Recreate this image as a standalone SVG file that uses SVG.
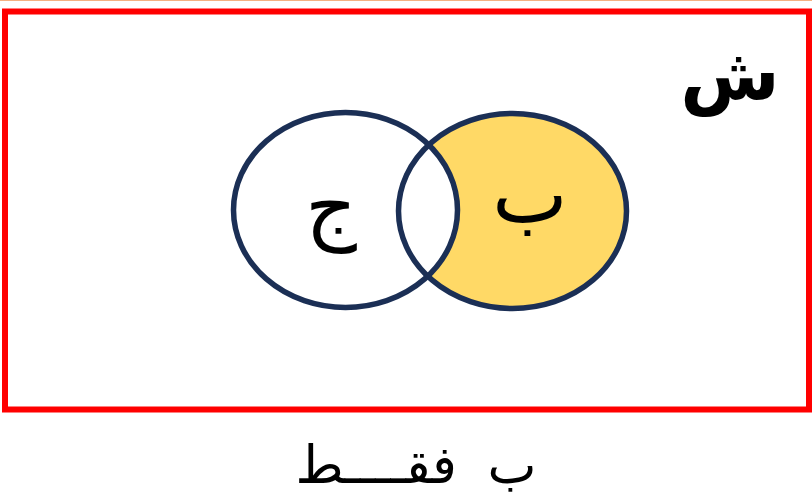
<svg xmlns="http://www.w3.org/2000/svg" width="812" height="497" viewBox="0 0 812 497">
<style>
.set{stroke:#1B2F55;stroke-width:5.5}
.lbl{font-family:"DejaVu Sans",sans-serif;fill:#000;text-anchor:middle}
</style>
<rect x="0" y="0" width="812" height="497" fill="#fff"/>
<line x1="0" y1="0.5" x2="812" y2="0.5" stroke="#F4B183" stroke-width="1"/>
<g id="universe">
<rect x="5" y="11.5" width="804" height="398" fill="none" stroke="#FF0000" stroke-width="6"/>
<text class="lbl" x="730" y="100" font-size="72" font-weight="bold">ش</text>
</g>
<g id="set-b">
<ellipse cx="512.5" cy="211" rx="114" ry="97.5" fill="#FFD966"/>
</g>
<g id="set-j">
<ellipse cx="345.5" cy="210" rx="112" ry="97.5" fill="#fff"/>
</g>
<g id="outlines">
<ellipse class="set" cx="512.5" cy="211" rx="114" ry="97.5" fill="none"/>
<ellipse class="set" cx="345.5" cy="210" rx="112" ry="97.5" fill="none"/>
</g>
<text class="lbl" x="331" y="234" font-size="80">ج</text>
<text class="lbl" x="530" y="222" font-size="80">ب</text>
<text class="lbl" x="416" y="483" font-size="52" direction="rtl" word-spacing="14">ب فقــــط</text>
</svg>
